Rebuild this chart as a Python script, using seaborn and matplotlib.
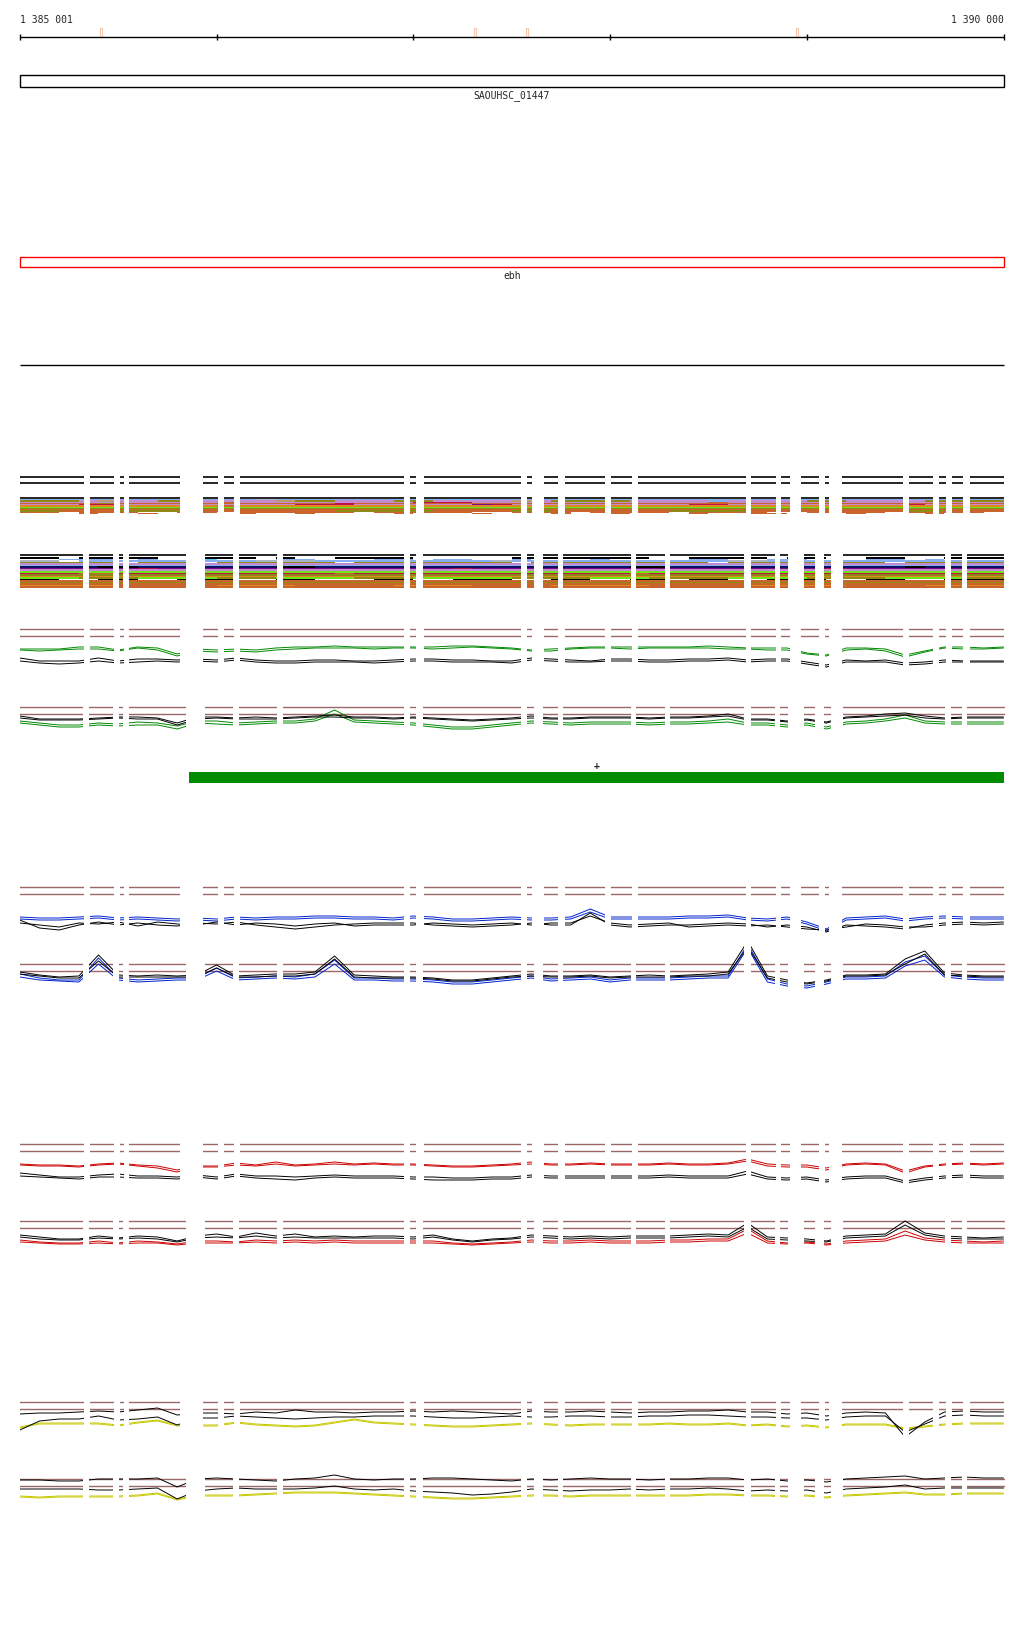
import numpy as np
import matplotlib
matplotlib.use('Agg')
import matplotlib.pyplot as plt
from matplotlib.colors import ListedColormap
from matplotlib.patches import Rectangle
import seaborn as sns

sns.set_style('white')
plt.rcParams['font.family'] = ['DejaVu Sans Mono', 'DejaVu Sans']

# ---- region and annotation data ----
REGION_START = 1385001
REGION_END = 1390000
TICKS = [1385001, 1386000, 1387000, 1388000, 1389000, 1390000]
SITE_MARKS = [1385413, 1387314, 1387578, 1388950]

GENES = ['SAOUHSC_01447', 'ebh']
GENE_START = [1385001, 1385001]
GENE_END = [1390000, 1390000]
GENE_COLORS = ['black', 'red']

TRANSCRIPT_START = 1385860
TRANSCRIPT_END = 1390000
TRANSCRIPT_STRAND = '+'

# covered pieces (bp) for the upper / lower track of every pair
SEGMENTS_A = [(1385001, 1385326), (1385357, 1385479), (1385509, 1385530), (1385555, 1385814),
              (1385931, 1386007), (1386038, 1386089), (1386119, 1386953), (1386983, 1387014),
              (1387055, 1387548), (1387578, 1387604), (1387665, 1387736), (1387771, 1387975),
              (1388005, 1388112), (1388142, 1388691), (1388717, 1388844), (1388869, 1388915),
              (1388971, 1389062), (1389093, 1389113), (1389179, 1389489), (1389520, 1389642),
              (1389672, 1389708), (1389738, 1389794), (1389830, 1390000)]
SEGMENTS_B = [(1385001, 1385321), (1385352, 1385474), (1385504, 1385525), (1385555, 1385845),
              (1385941, 1386084), (1386114, 1386307), (1386338, 1386953), (1386983, 1387014),
              (1387049, 1387548), (1387578, 1387614), (1387659, 1387736), (1387761, 1388107),
              (1388132, 1388280), (1388305, 1388681), (1388717, 1388839), (1388864, 1388905),
              (1388986, 1389042), (1389088, 1389123), (1389184, 1389703), (1389733, 1389789),
              (1389815, 1390010)]

# sample positions of the signal tracks (every 100 bp)
GRID = np.arange(1385000, 1390001, 100)

# ---- signal tracks (levels, two replicates each) ----
P2A_GREEN = [40, 40, 40, 42, 42, 39, 42, 41, 35,
             40, 39, 40, 39, 41, 42, 42, 43, 42, 42, 42,
             42, 42, 43, 43, 42, 41, 39, 40, 41, 42,
             42, 42, 42, 42, 42, 43, 42, 41, 41, 41,
             36, 34, 41, 41, 40, 34, 38, 42, 42, 41, 42]
P2A_GREEN_2 = [39, 38, 39, 40, 40, 38, 41, 39, 33,
               38, 37, 38, 37, 39, 40, 41, 41, 41, 40, 41,
               41, 40, 41, 42, 41, 40, 38, 38, 40, 41,
               41, 40, 41, 41, 41, 41, 40, 40, 39, 39,
               35, 33, 39, 40, 38, 32, 37, 41, 40, 40, 41]
P2A_BLACK = [31, 28, 28, 28, 31, 28, 30, 30, 29,
             30, 29, 31, 29, 28, 28, 29, 29, 28, 28, 29,
             30, 30, 29, 29, 28, 28, 31, 30, 29, 28,
             30, 30, 29, 29, 30, 30, 31, 29, 30, 30,
             27, 24, 29, 28, 29, 26, 27, 29, 28, 28, 28]
P2A_BLACK_2 = [28, 26, 25, 26, 28, 26, 27, 28, 27,
               28, 27, 29, 27, 26, 26, 27, 27, 27, 26, 27,
               28, 28, 27, 27, 27, 26, 29, 28, 27, 27,
               28, 28, 27, 27, 28, 28, 29, 27, 28, 28,
               25, 22, 27, 27, 27, 24, 25, 27, 27, 27, 27]
P2B_GREEN = [46, 44, 42, 42, 44, 43, 45, 44, 41,
             46, 46, 44, 45, 46, 46, 48, 57, 47, 46, 45,
             44, 42, 40, 40, 42, 44, 46, 45, 44, 45,
             45, 45, 44, 45, 45, 46, 48, 44, 44, 42,
             44, 40, 45, 46, 48, 52, 46, 45, 45, 45, 45]
P2B_GREEN_2 = [44, 42, 40, 40, 42, 41, 42, 42, 38,
               44, 43, 42, 43, 44, 44, 46, 53, 45, 44, 43,
               42, 40, 38, 38, 40, 42, 44, 43, 42, 43,
               43, 43, 42, 43, 43, 44, 45, 42, 42, 40,
               42, 38, 43, 44, 46, 49, 44, 43, 43, 43, 43]
P2B_BLACK = [51, 48, 48, 48, 49, 50, 50, 49, 44,
             50, 50, 49, 50, 49, 50, 51, 52, 50, 50, 49,
             50, 49, 48, 47, 48, 49, 51, 49, 49, 50,
             50, 50, 49, 50, 50, 51, 53, 48, 48, 46,
             48, 45, 50, 51, 53, 54, 51, 49, 50, 50, 50]
P2B_BLACK_2 = [49, 47, 47, 47, 48, 49, 48, 48, 42,
               48, 49, 48, 48, 48, 49, 50, 50, 49, 49, 48,
               49, 48, 47, 46, 47, 48, 49, 48, 48, 49,
               49, 49, 48, 49, 49, 50, 51, 47, 47, 45,
               47, 44, 49, 50, 51, 52, 49, 48, 49, 49, 49]
P3A_BLUE = [30, 29, 29, 30, 31, 29, 30, 29, 28,
            29, 28, 30, 29, 30, 30, 31, 31, 30, 30, 29,
            31, 30, 28, 28, 29, 30, 29, 29, 30, 38,
            30, 30, 30, 30, 31, 31, 32, 29, 28, 30,
            25, 18, 29, 30, 31, 28, 30, 31, 30, 30, 30]
P3A_BLUE_2 = [28, 27, 27, 28, 29, 27, 28, 27, 26,
              27, 26, 28, 27, 28, 28, 29, 29, 28, 28, 27,
              29, 28, 26, 26, 27, 28, 27, 27, 28, 35,
              28, 28, 28, 28, 29, 29, 30, 27, 26, 28,
              23, 16, 27, 28, 29, 26, 28, 29, 28, 28, 28]
P3A_BLACK = [27, 19, 17, 22, 25, 22, 24, 22, 21,
             24, 23, 25, 22, 20, 18, 20, 22, 23, 24, 24,
             24, 22, 21, 20, 21, 22, 24, 22, 22, 34,
             22, 20, 21, 22, 22, 23, 24, 23, 20, 22,
             20, 15, 22, 21, 20, 18, 22, 24, 25, 24, 25]
P3A_BLACK_2 = [24, 22, 20, 24, 23, 25, 21, 25, 23,
               22, 25, 22, 24, 23, 21, 23, 24, 21, 22, 22,
               22, 24, 23, 22, 23, 24, 22, 24, 24, 31,
               24, 22, 23, 24, 20, 21, 22, 21, 22, 20,
               18, 17, 20, 23, 22, 20, 20, 22, 23, 22, 23]
P3B_BLUE = [50, 46, 44, 44, 66, 46, 44, 45, 46,
            46, 56, 46, 47, 48, 47, 50, 64, 46, 46, 45,
            45, 44, 42, 42, 44, 46, 48, 45, 46, 47,
            44, 46, 46, 46, 47, 48, 48, 80, 45, 40,
            38, 42, 47, 47, 48, 62, 68, 49, 47, 46, 46]
P3B_BLUE_2 = [47, 44, 43, 42, 60, 44, 42, 43, 44,
              44, 53, 44, 45, 46, 45, 47, 60, 44, 44, 43,
              43, 42, 40, 40, 42, 44, 46, 43, 44, 45,
              42, 44, 44, 44, 45, 46, 46, 76, 42, 38,
              36, 40, 45, 45, 46, 58, 64, 47, 45, 44, 44]
P3B_BLACK = [52, 49, 47, 48, 69, 49, 48, 49, 48,
             49, 59, 48, 49, 50, 50, 52, 68, 49, 48, 47,
             47, 46, 44, 44, 46, 48, 50, 48, 48, 49,
             47, 48, 49, 48, 49, 50, 52, 83, 48, 44,
             41, 44, 49, 49, 50, 65, 73, 51, 49, 48, 48]
P3B_BLACK_2 = [50, 48, 46, 46, 63, 47, 47, 47, 47,
               47, 56, 47, 47, 48, 48, 50, 65, 47, 46, 46,
               46, 45, 43, 43, 45, 47, 48, 47, 47, 48,
               46, 47, 47, 47, 48, 48, 50, 77, 46, 42,
               40, 43, 48, 48, 49, 60, 70, 49, 48, 47, 47]
P4A_RED = [40, 39, 39, 38, 40, 41, 39, 38, 34,
           38, 38, 41, 39, 42, 39, 40, 42, 40, 41, 40,
           40, 39, 38, 38, 39, 40, 42, 40, 40, 41,
           40, 40, 40, 41, 40, 40, 41, 45, 40, 39,
           39, 36, 40, 41, 40, 33, 38, 40, 41, 40, 41]
P4A_RED_2 = [39, 38, 38, 37, 39, 40, 38, 36, 32,
             37, 37, 39, 38, 40, 38, 39, 40, 39, 40, 39,
             39, 38, 37, 37, 38, 39, 40, 39, 39, 40,
             39, 39, 39, 40, 39, 39, 40, 43, 38, 37,
             37, 34, 39, 40, 39, 31, 37, 39, 40, 39, 40]
P4A_BLACK = [31, 29, 27, 27, 29, 30, 28, 28, 27,
             29, 27, 30, 28, 28, 27, 28, 29, 28, 28, 28,
             27, 27, 26, 26, 27, 27, 29, 28, 28, 28,
             28, 28, 28, 29, 28, 28, 28, 33, 27, 26,
             27, 24, 27, 28, 28, 23, 26, 28, 29, 28, 28]
P4A_BLACK_2 = [28, 27, 26, 25, 27, 27, 26, 26, 25,
               27, 25, 28, 26, 25, 24, 26, 27, 26, 26, 26,
               25, 24, 24, 24, 25, 25, 27, 26, 26, 26,
               26, 26, 26, 27, 26, 26, 26, 30, 25, 24,
               25, 22, 25, 26, 26, 21, 24, 26, 27, 26, 26]
P4B_RED = [41, 39, 38, 38, 40, 38, 40, 39, 37,
           40, 40, 39, 41, 40, 41, 40, 41, 40, 40, 40,
           40, 40, 38, 37, 38, 39, 41, 40, 40, 41,
           40, 40, 40, 41, 41, 42, 42, 52, 40, 38,
           39, 37, 40, 41, 42, 50, 43, 41, 40, 39, 40]
P4B_RED_2 = [39, 38, 37, 37, 38, 37, 38, 38, 36,
             38, 38, 38, 39, 38, 39, 38, 39, 38, 38, 38,
             38, 38, 37, 36, 37, 38, 39, 38, 38, 39,
             38, 38, 38, 39, 39, 40, 40, 48, 38, 37,
             38, 36, 38, 39, 40, 46, 41, 39, 38, 38, 38]
P4B_BLACK = [46, 44, 42, 42, 45, 43, 45, 44, 40,
             45, 47, 44, 48, 45, 47, 44, 45, 44, 45, 45,
             44, 46, 42, 40, 42, 43, 46, 45, 44, 45,
             44, 45, 45, 45, 46, 47, 46, 58, 44, 43,
             42, 40, 45, 46, 47, 60, 48, 45, 44, 43, 44]
P4B_BLACK_2 = [44, 42, 41, 41, 43, 42, 43, 42, 39,
               43, 44, 43, 45, 43, 44, 43, 43, 43, 43, 43,
               42, 44, 41, 39, 41, 42, 44, 43, 42, 43,
               42, 43, 43, 43, 44, 45, 44, 54, 42, 41,
               40, 39, 43, 44, 45, 56, 46, 43, 42, 42, 42]
P5A_YELLOW = [35, 39, 39, 39, 39, 37, 40, 42, 37,
              37, 37, 40, 38, 37, 36, 37, 40, 43, 40, 39,
              38, 37, 36, 36, 37, 38, 39, 38, 37, 38,
              38, 38, 38, 39, 38, 38, 39, 37, 38, 36,
              37, 35, 38, 38, 38, 34, 36, 38, 39, 39, 39]
P5A_YELLOW_2 = [34, 38, 38, 38, 38, 36, 39, 41, 36,
                36, 36, 39, 37, 36, 35, 36, 39, 42, 39, 38,
                37, 36, 35, 35, 36, 37, 38, 37, 36, 37,
                37, 37, 37, 38, 37, 37, 38, 36, 37, 35,
                36, 34, 37, 37, 37, 33, 35, 37, 38, 38, 38]
P5A_BLACK_HI = [48, 49, 49, 50, 51, 50, 52, 54, 47,
                49, 49, 48, 50, 49, 52, 50, 50, 49, 50, 50,
                51, 50, 51, 50, 49, 48, 51, 50, 50, 51,
                50, 49, 50, 50, 51, 51, 52, 50, 50, 48,
                49, 46, 49, 50, 49, 25, 40, 50, 51, 50, 50]
P5A_BLACK_LO = [32, 41, 43, 43, 46, 42, 43, 45, 37,
                44, 44, 46, 45, 44, 43, 44, 45, 45, 46, 46,
                46, 45, 44, 44, 45, 46, 45, 45, 46, 46,
                45, 45, 46, 46, 47, 47, 46, 45, 45, 44,
                44, 42, 45, 46, 46, 30, 38, 46, 47, 46, 46]
P5B_YELLOW = [43, 42, 43, 43, 43, 43, 44, 46, 40,
              44, 44, 44, 45, 46, 47, 47, 47, 46, 45, 44,
              43, 42, 41, 41, 42, 43, 44, 44, 43, 44,
              44, 44, 44, 44, 44, 45, 45, 44, 44, 43,
              44, 42, 44, 45, 46, 47, 45, 45, 46, 46, 46]
P5B_YELLOW_2 = [42, 41, 42, 42, 42, 42, 43, 45, 39,
                43, 43, 43, 44, 45, 46, 46, 46, 45, 44, 43,
                42, 41, 40, 40, 41, 42, 43, 43, 42, 43,
                43, 43, 43, 43, 43, 44, 44, 43, 43, 42,
                43, 41, 43, 44, 45, 46, 44, 44, 45, 45, 45]
P5B_BLACK_HI = [59, 59, 58, 58, 60, 60, 60, 61, 52,
                60, 61, 60, 59, 58, 60, 61, 64, 60, 59, 60,
                60, 61, 61, 60, 59, 58, 60, 59, 60, 61,
                60, 60, 59, 60, 60, 61, 61, 59, 60, 58,
                59, 57, 60, 61, 62, 63, 60, 61, 62, 61, 61]
P5B_BLACK_LO = [50, 50, 50, 50, 49, 49, 50, 51, 40,
                48, 50, 51, 50, 50, 50, 51, 53, 50, 49, 50,
                48, 47, 46, 44, 45, 47, 50, 49, 48, 49,
                49, 50, 49, 50, 50, 51, 50, 48, 49, 48,
                49, 46, 50, 51, 52, 54, 50, 51, 51, 51, 51]

# ---- stacked alignment rows (one character per 100 bp) ----
STACK_COLORS = {'.': '#ffffff', 'k': '#000000', 'b': '#86aef0', 's': '#5cc8f8',
                'e': '#a9b4c8', 'l': '#c48ad0', 'o': '#8c8c14', 'r': '#c8642c',
                'y': '#e08820', 'g': '#6ee61a', 'c': '#c0104c', 'p': '#7a0a8a',
                'n': '#101060', 't': '#b89c6a'}
STACK_A = [
    "bbbbbbbbbbbbebbbbbbbbbsbbbbbbbbbbbbbbbbsbbbbbbbbbb",
    "oooltlloolllltoollloolllltloooollllblllloolllloooo",
    "llllllllllrlllllllllcccllllllllllllrllllllllllllll",
    "rrrrorrrrrrrrrrrcrrrrrrrrrrrorrrrrrrrrrrrrrrrrrrrr",
    "lllcclllllllllcccllllllpclllllllllcclllllllllcllll",
    "yyyyyyyyyyryyyyyyyyyyyyyyyyyyyyyyyyyyyyyyyyyyyyyyy",
    "gggggggggggggggggggggggggggggggggggggggggggggggggg",
    "oooooooooooooooooooooooooooooooooooooooooooooooooo",
    "rrrrrrrrrrrrrrrrrrrrrrrrrrrrrrrrrrrrrrrrrrrrrrrrrr",
    "oorrroooorrrrrrrooooorrrroorrrrrroooorrrrrrrroorrr",
    "rr.rrr..rr.rrrrrr.rrrrr..rrr.rrrr.rrrr..rrrr.rrrr.",
    "...r..r....r..r....r...r...r..r...r..rr...r...r...",
]
STACK_B = [
    "kk.kkkk..kkk.k..kkkk.....kkkkkkk..kkkk.kk..kk..kkk",
    "..bbb.b..s...bb...bb.bb..b...b....bb..bb...bb.b...",
    "ee.bbbbbbbbbeeebbbbbbbbbebbbbbbbbbbbeebbbbbbbbbbbb",
    "ooooo.ooo.oooooo.oooooooo.ooooooooo.oooooooo.ooooo",
    "llllllllllllllllllllllllllllllllllllllllllllllllll",
    "bbbbbbbbbbbbbbbbbbbbbbbbbbbbbbbbbbbbbbbbbbbbbbbbbb",
    "nnnnkknnnnnnnkknnnnnnnnnnnnnnnnkknnnnnnnnnnnnknnnn",
    "ppppppcpppppppppppppppcppppppppppppppppppcpppppppp",
    "llllllllllllllllllllllllllllllllllllllllllllllllll",
    "gggggggggggggggggggggggggggggggggggggggggggggggggg",
    "cccrrcccccccccccrccccccccccccccrcccccccccccccccccc",
    "oooooooooooooooooooooooooooooooooooooooooooooooooo",
    "yyyyyyyyyyyyyyyyyyyyyyyyyyyyyyyyyyyyyyyyyyyyyyyyyy",
    "gggoooggggoooggggooogggggoooogggooooggggooooggggoo",
    "kk..kk..kkk..kk...kk..kkk..kk..kk.kk..kkk..kk..kkk",
    "rrrrrrrrrrrrrrrrrrrrrrrrrrrrrrrrrrrrrrrrrrrrrrrrrr",
    "oooooooooooooooooooooooooooooooooooooooooooooooooo",
    "rrrrrrrrrrrrrrrrrrrrrrrrrrrrrrrrrrrrrrrrrrrrrrrrrr",
    "yyyyyrrrrryyyyrrrrryyyyrrrryyyyyrrrrryyyyyrrrryyyy",
    "rrrrrrrrrrrrrrrrrrrrrrrrrrrrrrrrrrrrrrrrrrrrrrrrrr",
]

BROWN = '#9b6666'
GREEN = '#008800'
BLUE = '#0022cc'
RED = '#cc0000'
YELLOW = '#c8c800'

# ---- page layout (pixels) ----
W, H = 1024, 1640
BP_PER_PX = (REGION_END - REGION_START) / 983.5
X0 = REGION_START - 20 * BP_PER_PX
X1 = REGION_START + (W - 20) * BP_PER_PX

fig = plt.figure(figsize=(W / 100, H / 100), dpi=100)
bg = fig.add_axes([0, 0, 1, 1])
bg.set_xlim(X0, X1)
bg.set_ylim(H, 0)
bg.axis('off')


def band(top, bottom, ylim):
    ax = fig.add_axes([0, 1 - bottom / H, 1, (bottom - top) / H])
    ax.set_xlim(X0, X1)
    ax.set_ylim(*ylim)
    ax.axis('off')
    return ax


def blank_gaps(ax, segs, conv=lambda v: v):
    # white out everything that is not covered by a segment
    edges = [X0 - 5000] + [v for s in segs for v in s] + [X1 + 5000]
    for a, b in zip(edges[0::2], edges[1::2]):
        ax.axvspan(conv(a), conv(b), color='white', lw=0, zorder=10)


# ruler
bg.hlines(38, REGION_START, REGION_END, color='black', lw=1)
bg.vlines(TICKS, 35, 41, color='black', lw=1)
bg.text(REGION_START, 20, '1 385 001', fontsize=7, ha='left', va='center')
bg.text(REGION_END, 20, '1 390 000', fontsize=7, ha='right', va='center')
for m in SITE_MARKS:
    bg.add_patch(Rectangle((m - 6, 29), 12, 9, fill=False, ec='#f5c8b0', lw=0.8))

# genes
for name, s, e, c, top in zip(GENES, GENE_START, GENE_END, GENE_COLORS, [76, 258]):
    bg.add_patch(Rectangle((s, top), e - s, 12 if c == 'black' else 10,
                           fill=False, ec=c, lw=1))
    bg.text((s + e) / 2, top + (20 if c == 'black' else 18), name, fontsize=7,
            ha='center', va='center')
bg.hlines(366, REGION_START, REGION_END, color='black', lw=1)

# stacked alignment tracks
keys = list(STACK_COLORS)
cmap = ListedColormap([STACK_COLORS[k] for k in keys])
to_col = lambda v: (v - 1385000) / 100
for rows, top, bottom, lines, segs in [(STACK_A, 500, 515, [478, 484, 499], SEGMENTS_A),
                                       (STACK_B, 558, 589, [556], SEGMENTS_B)]:
    frame = band(top - 30, bottom, (bottom, top - 30))
    frame.hlines(lines, REGION_START, REGION_END, color='black', lw=1.2)
    blank_gaps(frame, segs)
    codes = np.array([[keys.index(ch) for ch in r.ljust(50, '.')[:50]] for r in rows])
    hm = fig.add_axes([0, 1 - bottom / H, 1, (bottom - top) / H])
    sns.heatmap(codes, cmap=cmap, vmin=-0.5, vmax=len(keys) - 0.5, cbar=False,
                xticklabels=False, yticklabels=False, ax=hm)
    hm.set_xlim(to_col(X0), to_col(X1))
    blank_gaps(hm, segs, to_col)
    hm.axis('off')

# transcript bar
bg.add_patch(Rectangle((TRANSCRIPT_START, 773), TRANSCRIPT_END - TRANSCRIPT_START, 11,
                       color='#008c00', lw=0))
bg.text((TRANSCRIPT_START + TRANSCRIPT_END) / 2, 766, TRANSCRIPT_STRAND, fontsize=7,
        ha='center', va='center', fontweight='bold')

# signal tracks: (first threshold line y, segments, [(values, colour), ...])
TRACKS = [
    (630, SEGMENTS_A, [(P2A_GREEN, GREEN), (P2A_GREEN_2, GREEN),
                       (P2A_BLACK, 'black'), (P2A_BLACK_2, 'black')]),
    (708, SEGMENTS_B, [(P2B_GREEN, GREEN), (P2B_GREEN_2, GREEN),
                       (P2B_BLACK, 'black'), (P2B_BLACK_2, 'black')]),
    (888, SEGMENTS_A, [(P3A_BLUE, BLUE), (P3A_BLUE_2, BLUE),
                       (P3A_BLACK, 'black'), (P3A_BLACK_2, 'black')]),
    (965, SEGMENTS_B, [(P3B_BLUE, BLUE), (P3B_BLUE_2, BLUE),
                       (P3B_BLACK, 'black'), (P3B_BLACK_2, 'black')]),
    (1145, SEGMENTS_A, [(P4A_RED, RED), (P4A_RED_2, RED),
                        (P4A_BLACK, 'black'), (P4A_BLACK_2, 'black')]),
    (1222, SEGMENTS_B, [(P4B_RED, RED), (P4B_RED_2, RED),
                        (P4B_BLACK, 'black'), (P4B_BLACK_2, 'black')]),
    (1403, SEGMENTS_A, [(P5A_YELLOW, YELLOW), (P5A_YELLOW_2, YELLOW),
                        (P5A_BLACK_HI, 'black'), (P5A_BLACK_LO, 'black')]),
    (1480, SEGMENTS_B, [(P5B_YELLOW, YELLOW), (P5B_YELLOW_2, YELLOW),
                        (P5B_BLACK_HI, 'black'), (P5B_BLACK_LO, 'black')]),
]
for thr_y, segs, series in TRACKS:
    ax = band(thr_y - 30, thr_y + 60, (0, 90))
    ax.axhline(60, color=BROWN, lw=1)
    ax.axhline(53, color=BROWN, lw=1)
    for vals, c in series:
        sns.lineplot(x=GRID, y=vals, ax=ax, color=c, lw=0.7, estimator=None)
    ax.set_xlim(X0, X1)
    ax.set_ylim(0, 90)
    blank_gaps(ax, segs)
    ax.axis('off')

fig.savefig('out.png', dpi=100)
